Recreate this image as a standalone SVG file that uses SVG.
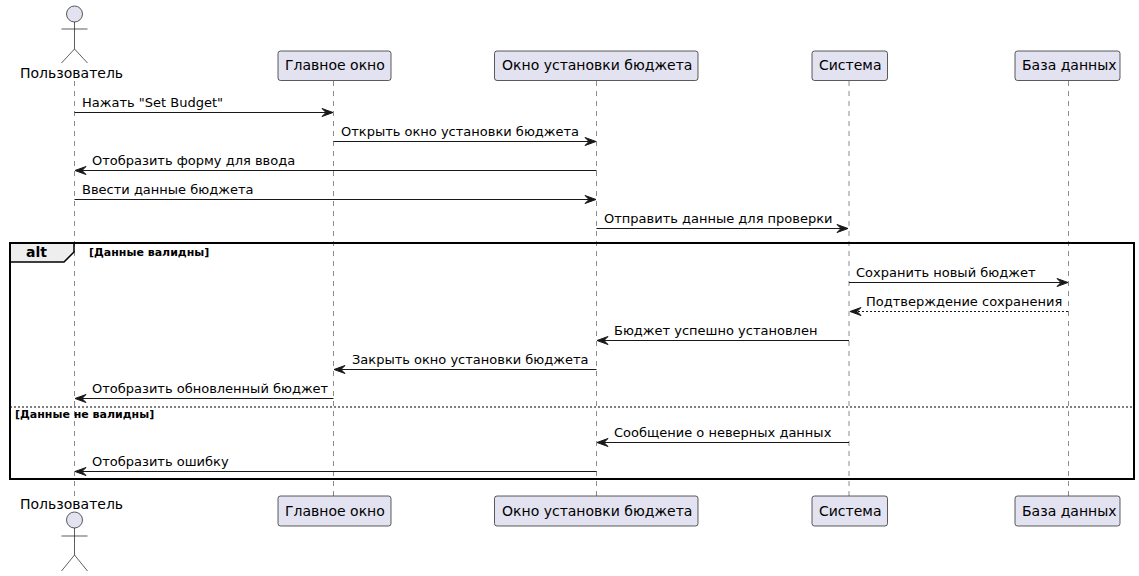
<svg xmlns="http://www.w3.org/2000/svg" width="1139" height="576" viewBox="0 0 1139 576">
<style>
text{font-family:"DejaVu Sans",sans-serif;font-size:14px;fill:#000}
.m{font-size:13px}
.life{stroke:#181818;stroke-width:.5;stroke-dasharray:5 5;fill:none}
.box{fill:#E2E2F0;stroke:#181818;stroke-width:.7}
.act{fill:none;stroke:#181818;stroke-width:.7}
.head{fill:#E2E2F0;stroke:#181818;stroke-width:.7}
.msg{stroke:#181818;stroke-width:1.2;fill:none}
.dash{stroke-dasharray:2 2}
.ah{fill:#181818;stroke:#181818;stroke-width:1}
.frame{fill:none;stroke:#000;stroke-width:2}
.tab{fill:#EEEEEE;stroke:#000;stroke-width:1.5}
.else{stroke:#000;stroke-width:1;stroke-dasharray:2 2;fill:none}
.g{font-size:11px;font-weight:bold}
.alt{font-weight:bold}
</style>
<g id="lifelines">
<path class="life" d="M74.500 81V497"/>
<path class="life" d="M333.500 81V497"/>
<path class="life" d="M596.500 81V497"/>
<path class="life" d="M849 81V497"/>
<path class="life" d="M1068.500 81V497"/>
</g>
<g id="frame-alt">
<path class="tab" d="M10 243H74V252L64 262H10Z"/>
<rect class="frame" x="10" y="243" width="1124" height="236"/>
<path class="else" d="M10 407H1134"/>
<text class="alt" x="26" y="257">alt</text>
<text class="g" x="89" y="256">[Данные валидны]</text>
<text class="g" x="15" y="418">[Данные не валидны]</text>
</g>
<g id="connectors">
<path class="msg" d="M74.500 112.500H329"/><polygon class="ah" points="322,108.500 333,112.500 322,116.500 326,112.500"/>
<text class="m" x="82" y="107">Нажать "Set Budget"</text>
<path class="msg" d="M333.500 141.500H592"/><polygon class="ah" points="585,137.500 596,141.500 585,145.500 589,141.500"/>
<text class="m" x="341" y="136">Открыть окно установки бюджета</text>
<path class="msg" d="M79 170.500H596.500"/><polygon class="ah" points="86,166.500 75,170.500 86,174.500 82,170.500"/>
<text class="m" x="92" y="165">Отобразить форму для ввода</text>
<path class="msg" d="M74.500 199.500H592"/><polygon class="ah" points="585,195.500 596,199.500 585,203.500 589,199.500"/>
<text class="m" x="82" y="194">Ввести данные бюджета</text>
<path class="msg" d="M596.500 228.500H844"/><polygon class="ah" points="837,224.500 848,228.500 837,232.500 841,228.500"/>
<text class="m" x="604" y="223">Отправить данные для проверки</text>
<path class="msg" d="M849 282.500H1064"/><polygon class="ah" points="1057,278.500 1068,282.500 1057,286.500 1061,282.500"/>
<text class="m" x="856" y="277">Сохранить новый бюджет</text>
<path class="msg dash" d="M854 311.500H1068.500"/><polygon class="ah" points="861,307.500 850,311.500 861,315.500 857,311.500"/>
<text class="m" x="866" y="306">Подтверждение сохранения</text>
<path class="msg" d="M601 340.500H849"/><polygon class="ah" points="608,336.500 597,340.500 608,344.500 604,340.500"/>
<text class="m" x="614" y="335">Бюджет успешно установлен</text>
<path class="msg" d="M338 369.500H596.500"/><polygon class="ah" points="345,365.500 334,369.500 345,373.500 341,369.500"/>
<text class="m" x="352" y="364">Закрыть окно установки бюджета</text>
<path class="msg" d="M79 398.500H333.500"/><polygon class="ah" points="86,394.500 75,398.500 86,402.500 82,398.500"/>
<text class="m" x="92" y="393">Отобразить обновленный бюджет</text>
<path class="msg" d="M601 442.500H849"/><polygon class="ah" points="608,438.500 597,442.500 608,446.500 604,442.500"/>
<text class="m" x="614" y="437">Сообщение о неверных данных</text>
<path class="msg" d="M79 471.500H596.500"/><polygon class="ah" points="86,467.500 75,471.500 86,475.500 82,471.500"/>
<text class="m" x="92" y="466">Отобразить ошибку</text>
</g>
<g id="actor-top">
<circle class="head" cx="74.500" cy="14" r="8"/>
<path class="act" d="M74.500 22V49M61.500 29H87.500M74.500 49L61.500 63M74.500 49L87.500 63"/>
<text x="20" y="78">Пользователь</text>
</g>
<g id="actor-bottom">
<text x="20" y="509">Пользователь</text>
<circle class="head" cx="74.500" cy="520" r="8"/>
<path class="act" d="M74.500 528V555M61.500 536H87.500M74.500 555L61.500 571M74.500 555L87.500 571"/>
</g>
<g id="main-top"><rect class="box" x="278" y="51" width="113" height="29.500" rx="2.500"/><text x="285" y="70">Главное окно</text></g>
<g id="main-bottom"><rect class="box" x="278" y="496" width="113" height="30" rx="2.500"/><text x="285" y="516">Главное окно</text></g>
<g id="budget-top"><rect class="box" x="494.500" y="51" width="203.500" height="29.500" rx="2.500"/><text x="502" y="70">Окно установки бюджета</text></g>
<g id="budget-bottom"><rect class="box" x="494.500" y="496" width="203.500" height="30" rx="2.500"/><text x="502" y="516">Окно установки бюджета</text></g>
<g id="system-top"><rect class="box" x="812" y="51" width="75.500" height="29.500" rx="2.500"/><text x="819" y="70">Система</text></g>
<g id="system-bottom"><rect class="box" x="812" y="496" width="75.500" height="30" rx="2.500"/><text x="819" y="516">Система</text></g>
<g id="db-top"><rect class="box" x="1015" y="51" width="105" height="29.500" rx="2.500"/><text x="1022" y="70">База данных</text></g>
<g id="db-bottom"><rect class="box" x="1015" y="496" width="105" height="30" rx="2.500"/><text x="1022" y="516">База данных</text></g>
</svg>
